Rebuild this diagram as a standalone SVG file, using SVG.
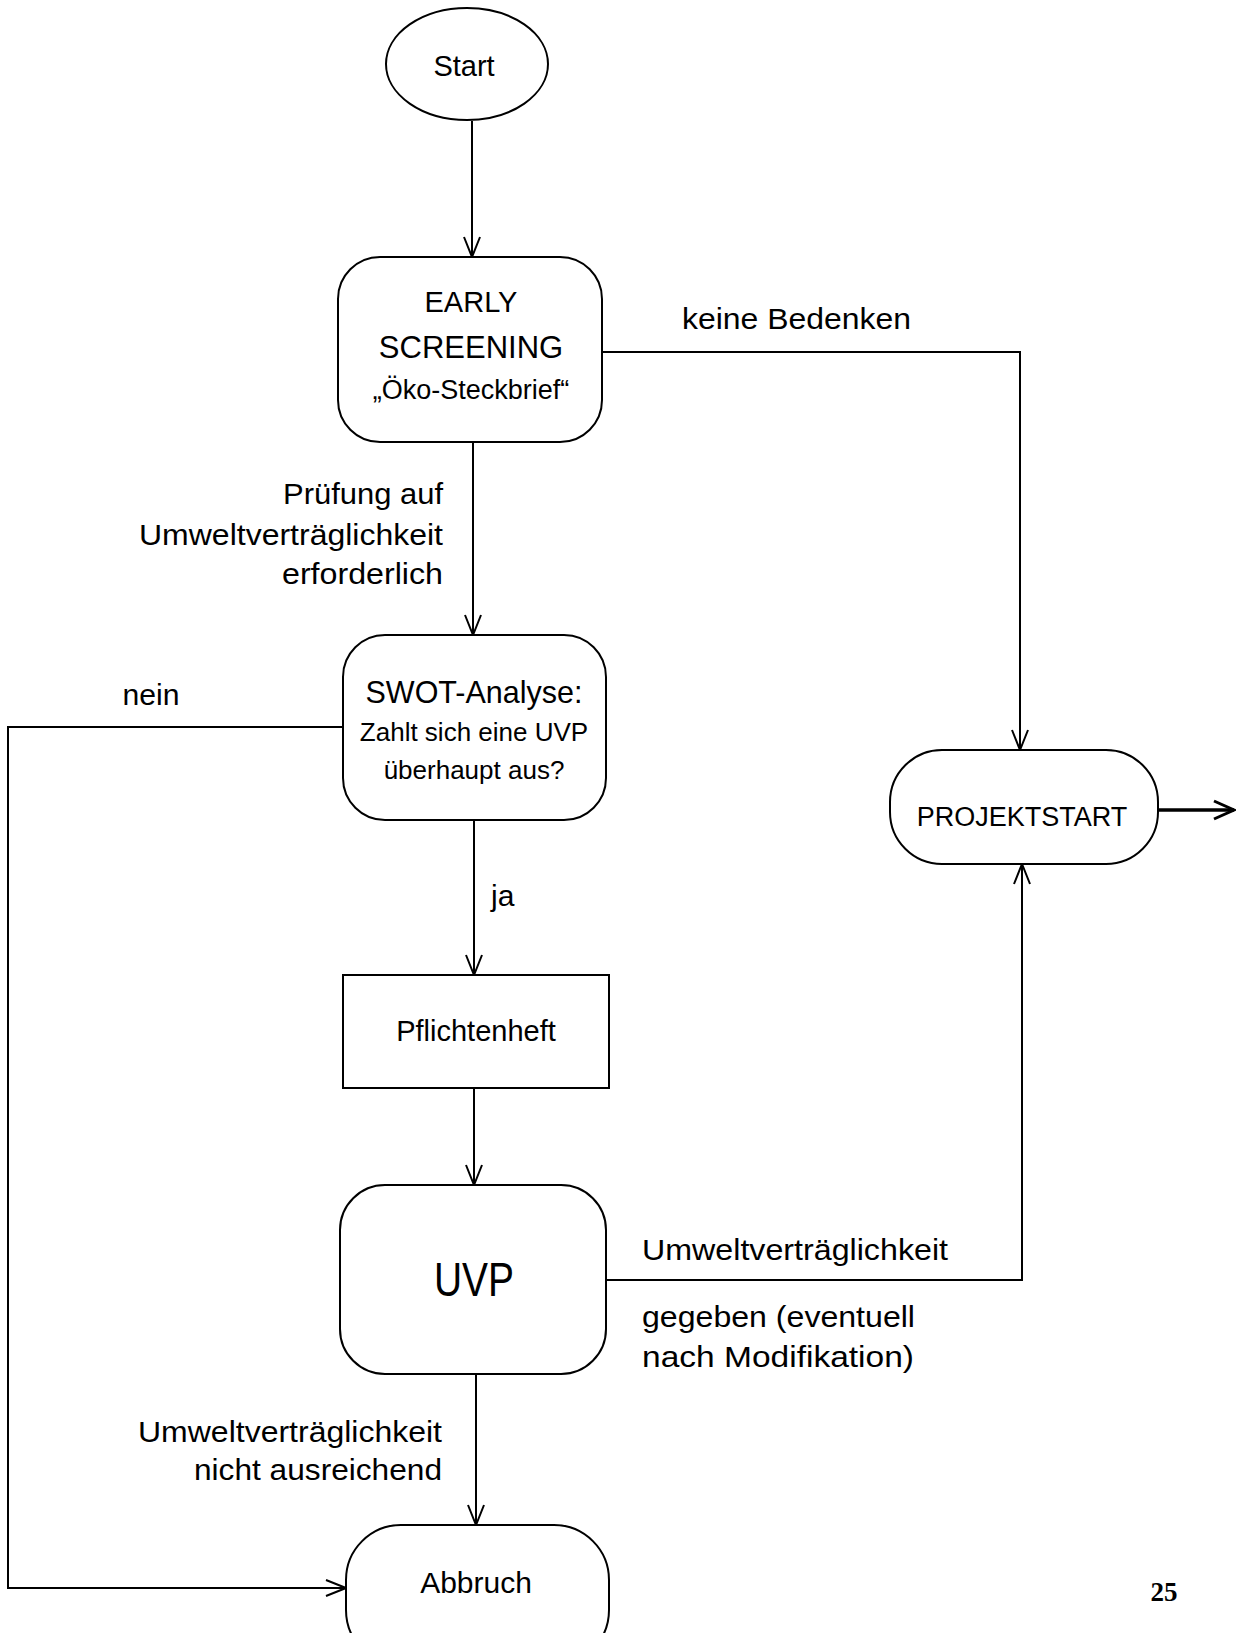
<svg xmlns="http://www.w3.org/2000/svg" width="1243" height="1633" viewBox="0 0 1243 1633">
<style>
.t{font-family:"Liberation Sans",Arial,sans-serif;font-size:29px;fill:#000}
.l{font-size:30px}
.s{font-size:26px}
.m{text-anchor:middle}
.e{text-anchor:end}
.box{fill:#fff;stroke:#000;stroke-width:2}
.edge{fill:none;stroke:#000;stroke-width:2}
</style>
<defs>
<marker id="arr" markerUnits="userSpaceOnUse" markerWidth="22" markerHeight="18" viewBox="0 0 22 18" refX="21" refY="9" orient="auto">
<path d="M1,1 L21,9 L1,17" fill="none" stroke="#000" stroke-width="2"/>
</marker>
<marker id="arrB" markerUnits="userSpaceOnUse" markerWidth="24" markerHeight="22" viewBox="0 0 24 22" refX="22" refY="11" orient="auto">
<path d="M2,2 L22,11 L2,20" fill="none" stroke="#000" stroke-width="3"/>
</marker>
</defs>
<rect width="1243" height="1633" fill="#fff"/>
<g id="connectors">
<line class="edge" x1="472" y1="121" x2="472" y2="257" marker-end="url(#arr)"/>
<polyline class="edge" points="602,352 1020,352 1020,750" marker-end="url(#arr)"/>
<line class="edge" x1="473" y1="442" x2="473" y2="635" marker-end="url(#arr)"/>
<polyline class="edge" points="343,727 8,727 8,1588 346,1588" marker-end="url(#arr)"/>
<line class="edge" x1="474" y1="820" x2="474" y2="975" marker-end="url(#arr)"/>
<line class="edge" x1="474" y1="1088" x2="474" y2="1185" marker-end="url(#arr)"/>
<polyline class="edge" points="606,1280 1022,1280 1022,864" marker-end="url(#arr)"/>
<line class="edge" x1="476" y1="1374" x2="476" y2="1525" marker-end="url(#arr)"/>
<line x1="1158" y1="810" x2="1234" y2="810" stroke="#000" stroke-width="3.5" marker-end="url(#arrB)"/>
<text class="t l" x="682" y="329" textLength="229" lengthAdjust="spacingAndGlyphs">keine Bedenken</text>
<text class="t l e" x="443" y="504" textLength="160" lengthAdjust="spacingAndGlyphs">Prüfung auf</text>
<text class="t l e" x="443" y="545" textLength="304" lengthAdjust="spacingAndGlyphs">Umweltverträglichkeit</text>
<text class="t l e" x="443" y="584" textLength="161" lengthAdjust="spacingAndGlyphs">erforderlich</text>
<text class="t l m" x="151" y="705" textLength="57" lengthAdjust="spacingAndGlyphs">nein</text>
<text class="t l" x="491" y="906">ja</text>
<text class="t l" x="642" y="1260" textLength="306" lengthAdjust="spacingAndGlyphs">Umweltverträglichkeit</text>
<text class="t l" x="642" y="1327" textLength="273" lengthAdjust="spacingAndGlyphs">gegeben (eventuell</text>
<text class="t l" x="642" y="1367" textLength="272" lengthAdjust="spacingAndGlyphs">nach Modifikation)</text>
<text class="t l e" x="442" y="1442" textLength="304" lengthAdjust="spacingAndGlyphs">Umweltverträglichkeit</text>
<text class="t l e" x="442" y="1480" textLength="248" lengthAdjust="spacingAndGlyphs">nicht ausreichend</text>
</g>
<g id="start">
<ellipse class="box" cx="467" cy="64" rx="81" ry="56"/>
<text class="t m" x="464" y="76">Start</text>
</g>
<g id="early-screening">
<rect class="box" x="338" y="257" width="264" height="185" rx="42"/>
<text class="t m" x="471" y="312">EARLY</text>
<text class="t m" x="471" y="358" style="font-size:31px">SCREENING</text>
<text class="t m" x="471" y="399" style="font-size:27px">„Öko-Steckbrief“</text>
</g>
<g id="swot">
<rect class="box" x="343" y="635" width="263" height="185" rx="42"/>
<text class="t m" x="474" y="703" style="font-size:30.5px">SWOT-Analyse:</text>
<text class="t m s" x="474" y="741">Zahlt sich eine UVP</text>
<text class="t m s" x="474" y="779">überhaupt aus?</text>
</g>
<g id="pflichtenheft">
<rect class="box" x="343" y="975" width="266" height="113"/>
<text class="t m" x="476" y="1041">Pflichtenheft</text>
</g>
<g id="uvp">
<rect class="box" x="340" y="1185" width="266" height="189" rx="45"/>
<text class="t m" x="474" y="1296" style="font-size:48px" textLength="80" lengthAdjust="spacingAndGlyphs">UVP</text>
</g>
<g id="projektstart">
<rect class="box" x="890" y="750" width="268" height="114" rx="52"/>
<text class="t m" x="1022" y="826" style="font-size:27px">PROJEKTSTART</text>
</g>
<g id="abbruch">
<rect class="box" x="346" y="1525" width="263" height="140" rx="55"/>
<text class="t m" x="476" y="1593" style="font-size:30px">Abbruch</text>
</g>
<text x="1164" y="1601" style="font-family:'Liberation Serif','Times New Roman',serif;font-size:27px;font-weight:bold" text-anchor="middle">25</text>
</svg>
